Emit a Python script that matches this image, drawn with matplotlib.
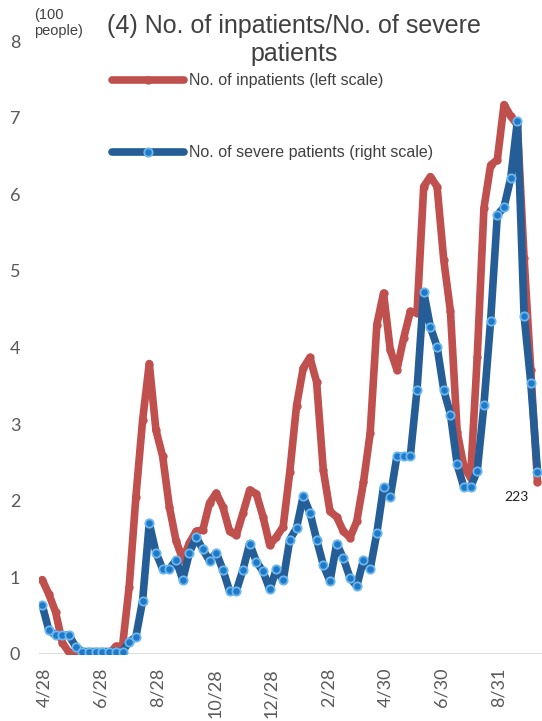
import matplotlib.pyplot as plt
import numpy as np

# weekly points, starting 4/28
inpatients = [0.97, 0.78, 0.55, 0.15, 0.02, 0.0, 0.0, 0.0, 0.0, 0.0,
              0.0, 0.1, 0.1, 0.88, 2.05, 3.05, 3.79, 2.92, 2.58, 1.92,
              1.48, 1.23, 1.45, 1.60, 1.62, 1.97, 2.10, 1.92, 1.60, 1.55,
              1.84, 2.14, 2.09, 1.79, 1.42, 1.53, 1.66, 2.38, 3.24, 3.73,
              3.87, 3.55, 2.40, 1.86, 1.79, 1.60, 1.52, 1.73, 2.24, 2.88,
              4.30, 4.71, 3.97, 3.71, 4.12, 4.47, 4.45, 6.10, 6.23, 6.10,
              5.14, 4.47, 2.90, 2.45, 2.30, 3.88, 5.82, 6.38, 6.45, 7.17,
              7.02, 6.90, 5.17, 3.70, 2.25]  # (100 people), left scale
severe = [60, 29, 23, 23, 23, 9, 3, 3, 3, 3,
          3, 3, 3, 15, 21, 65, 160, 124, 104, 104,
          115, 91, 124, 143, 128, 114, 124, 103, 77, 77,
          103, 135, 113, 101, 79, 104, 90, 140, 154, 193,
          173, 140, 109, 89, 135, 117, 93, 83, 115, 104,
          148, 204, 192, 242, 242, 242, 323, 443, 400, 376,
          323, 293, 232, 204, 204, 224, 305, 408, 537, 547,
          582, 652, 414, 332, 223]  # people, right scale
tick_labels = ['4/28', '6/28', '8/28', '10/28', '12/28', '2/28', '4/30', '6/30', '8/31']

weeks = np.arange(len(inpatients))
tick_pos = np.linspace(0.3, 68.2, len(tick_labels))

red = '#C0504D'
blue = '#255E96'

fig = plt.figure(figsize=(5.42, 7.21), dpi=100)
ax = fig.add_axes([38.5 / 542, 67 / 721, 503 / 542, 613 / 721])
ax2 = ax.twinx()

l1, = ax.plot(weeks, inpatients, color=red, lw=5.5, marker='o', ms=5,
              mfc=red, mec=red, solid_capstyle='round', solid_joinstyle='round',
              label='No. of inpatients (left scale)')
l2, = ax2.plot(weeks, severe, color=blue, lw=5.5, marker='o', ms=6,
               mfc='#1F78C8', mec='#6BB8EE', mew=1.3,
               solid_capstyle='round', solid_joinstyle='round',
               label='No. of severe patients (right scale)')

ax.set_xlim(-0.55, 74.6)
ax.set_ylim(0, 8)
ax2.set_ylim(0, 750)

for a in (ax, ax2):
    for s in a.spines.values():
        s.set_visible(False)
ax.axhline(0, color='#D9D9D9', lw=2, zorder=0)
ax2.set_yticks([])

ax.set_yticks(range(9))
ax.tick_params(axis='y', length=0, labelsize=13, labelcolor='#595959')
for t in ax.get_yticklabels():
    t.set_family('Lato')
    t.set_horizontalalignment('left')
    t.set_x(-0.047)
ax.set_xticks(tick_pos)
ax.set_xticklabels(tick_labels, rotation=90, family='Lato', fontsize=13, color='#595959')
ax.tick_params(axis='x', length=0, pad=10)

ax2.annotate('223', (weeks[-1], severe[-1]), xytext=(-15, -18), textcoords='offset points',
             ha='center', va='center', fontsize=10, family='Lato', color='#222222')

fig.text(34 / 542, 1 - 23 / 721, '(100\npeople)', ha='left', va='center',
         fontsize=10.5, color='#404040', family='Liberation Sans', linespacing=1.2)
fig.text(294 / 542, 1 - 40 / 721, '(4) No. of inpatients/No. of severe\npatients',
         ha='center', va='center', fontsize=18, color='#404040',
         family='Liberation Sans', linespacing=1.25)

leg_props = {'family': 'Liberation Sans', 'size': 11.5}
leg1 = fig.legend(handles=[l1], loc='center left', bbox_to_anchor=(112 / 542, 1 - 81 / 721),
                  frameon=False, handlelength=4.5, handletextpad=0.3,
                  borderpad=0, borderaxespad=0, prop=leg_props)
leg2 = fig.legend(handles=[l2], loc='center left', bbox_to_anchor=(112 / 542, 1 - 153 / 721),
                  frameon=False, handlelength=4.5, handletextpad=0.3,
                  borderpad=0, borderaxespad=0, prop=leg_props)
for leg in (leg1, leg2):
    for t in leg.get_texts():
        t.set_color('#404040')

fig.savefig('out.png', dpi=100)
